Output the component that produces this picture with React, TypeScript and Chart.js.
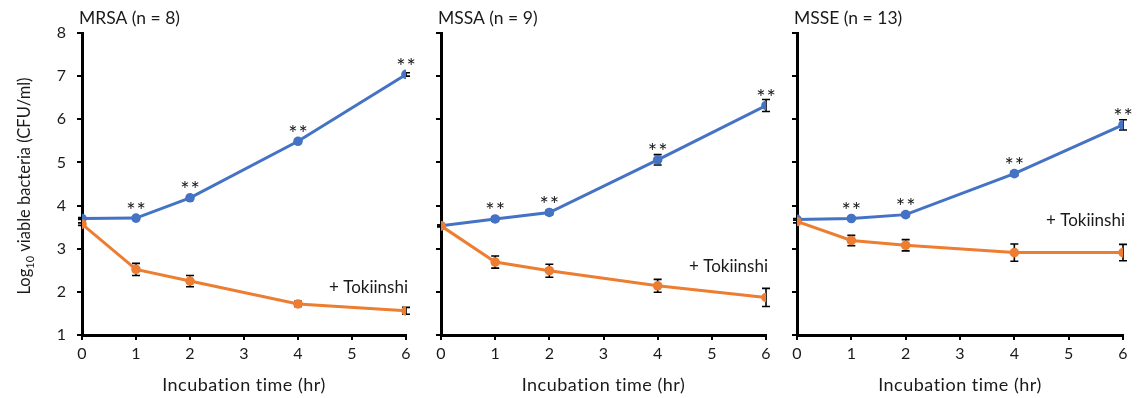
import React, { useEffect, useRef } from "react";
import { Chart, registerables } from "chart.js";

Chart.register(...registerables);

// ---------- data ----------
const hours = [0, 1, 2, 4, 6];
const xTickValues = [0, 1, 2, 3, 4, 5, 6];
const yTickValues = [1, 2, 3, 4, 5, 6, 7, 8];

const mrsaTitle = "MRSA (n = 8)";
const mrsaControl = [3.7, 3.71, 4.18, 5.49, 7.04];
const mrsaControlErr = [0.02, 0.03, 0.04, 0.04, 0.04];
const mrsaTokiinshi = [3.57, 2.52, 2.25, 1.72, 1.56];
const mrsaTokiinshiErr = [0.03, 0.14, 0.13, 0.06, 0.08];

const mssaTitle = "MSSA (n = 9)";
const mssaControl = [3.53, 3.69, 3.84, 5.06, 6.32];
const mssaControlErr = [0.02, 0.05, 0.05, 0.12, 0.14];
const mssaTokiinshi = [3.53, 2.69, 2.49, 2.14, 1.87];
const mssaTokiinshiErr = [0.02, 0.14, 0.15, 0.15, 0.21];

const msseTitle = "MSSE (n = 13)";
const msseControl = [3.68, 3.7, 3.79, 4.74, 5.87];
const msseControlErr = [0.02, 0.03, 0.04, 0.05, 0.12];
const msseTokiinshi = [3.63, 3.19, 3.08, 2.91, 2.91];
const msseTokiinshiErr = [0.03, 0.12, 0.13, 0.2, 0.19];

const significance = ["", "**", "**", "**", "**"];
const treatmentLabel = "+ Tokiinshi";
const xAxisTitle = "Incubation time (hr)";
const yAxisTitleMain = "Log";
const yAxisTitleSub = "10";
const yAxisTitleRest = " viable bacteria (CFU/ml)";

// ---------- styles ----------
const BLUE = "#4472C4";
const ORANGE = "#ED7D31";
const TEXT = "#1a1a1a";
const FONT = "Lato, 'Open Sans', sans-serif";

type Panel = {
  title: string;
  control: number[];
  controlErr: number[];
  treat: number[];
  treatErr: number[];
  left: number;
  width: number;
  yAxisWidth: number;
  padRight: number;
  showYLabels: boolean;
  noteY: number;
};

const panels: Panel[] = [
  {
    title: mrsaTitle,
    control: mrsaControl,
    controlErr: mrsaControlErr,
    treat: mrsaTokiinshi,
    treatErr: mrsaTokiinshiErr,
    left: 0,
    width: 420,
    yAxisWidth: 82,
    padRight: 14,
    showYLabels: true,
    noteY: 2.11,
  },
  {
    title: mssaTitle,
    control: mssaControl,
    controlErr: mssaControlErr,
    treat: mssaTokiinshi,
    treatErr: mssaTokiinshiErr,
    left: 420,
    width: 360,
    yAxisWidth: 21,
    padRight: 14,
    showYLabels: false,
    noteY: 2.58,
  },
  {
    title: msseTitle,
    control: msseControl,
    controlErr: msseControlErr,
    treat: msseTokiinshi,
    treatErr: msseTokiinshiErr,
    left: 780,
    width: 362,
    yAxisWidth: 17,
    padRight: 19,
    showYLabels: false,
    noteY: 3.65,
  },
];

const HEIGHT = 398;

function makeDecorPlugin(p: Panel) {
  return {
    id: "decor",
    beforeDatasetsDraw(chart: any) {
      const ctx = chart.ctx as CanvasRenderingContext2D;
      const xs = chart.scales.x;
      const ys = chart.scales.y;
      ctx.save();
      const drawErr = (vals: number[], errs: number[]) => {
        ctx.strokeStyle = "#000";
        ctx.lineWidth = 1.6;
        vals.forEach((v, i) => {
          const e = errs[i];
          if (!e) return;
          const px = xs.getPixelForValue(hours[i]);
          const yTop = ys.getPixelForValue(v + e);
          const yBot = ys.getPixelForValue(v - e);
          ctx.beginPath();
          ctx.moveTo(px, yTop);
          ctx.lineTo(px, yBot);
          ctx.moveTo(px - 4, yTop);
          ctx.lineTo(px + 4, yTop);
          ctx.moveTo(px - 4, yBot);
          ctx.lineTo(px + 4, yBot);
          ctx.stroke();
        });
      };
      drawErr(p.control, p.controlErr);
      drawErr(p.treat, p.treatErr);
      ctx.restore();
    },
    afterDraw(chart: any) {
      const ctx = chart.ctx as CanvasRenderingContext2D;
      const xs = chart.scales.x;
      const ys = chart.scales.y;
      const area = chart.chartArea;
      ctx.save();
      ctx.fillStyle = TEXT;
      // panel title
      ctx.font = `17.5px ${FONT}`;
      ctx.textAlign = "left";
      ctx.textBaseline = "alphabetic";
      ctx.fillText(p.title, area.left - 3, 24);
      // significance marks
      ctx.font = `22px ${FONT}`;
      (ctx as any).letterSpacing = "1px";
      ctx.textAlign = "center";
      p.control.forEach((v, i) => {
        const s = significance[i];
        if (!s) return;
        const px = xs.getPixelForValue(hours[i]);
        const py = ys.getPixelForValue(v);
        ctx.fillText(s, px + 0.5, py - 0.5);
      });
      (ctx as any).letterSpacing = "0px";
      // treatment label
      ctx.font = `17px ${FONT}`;
      ctx.textAlign = "right";
      ctx.textBaseline = "middle";
      ctx.fillText(treatmentLabel, area.right + 2, ys.getPixelForValue(p.noteY));
      // x axis title
      ctx.font = `18px ${FONT}`;
      (ctx as any).letterSpacing = "0.5px";
      ctx.textAlign = "center";
      ctx.textBaseline = "alphabetic";
      ctx.fillText(xAxisTitle, (area.left + area.right) / 2, 391);
      (ctx as any).letterSpacing = "0px";
      // y axis title
      if (p.showYLabels) {
        const big = `16.5px ${FONT}`;
        const small = `11px ${FONT}`;
        ctx.translate(30, (area.top + area.bottom) / 2 + 2);
        ctx.rotate(-Math.PI / 2);
        ctx.font = big;
        const w1 = ctx.measureText(yAxisTitleMain).width;
        ctx.font = small;
        const w2 = ctx.measureText(yAxisTitleSub).width;
        ctx.font = big;
        const w3 = ctx.measureText(yAxisTitleRest).width;
        const total = w1 + w2 + w3;
        let x = -total / 2;
        ctx.textAlign = "left";
        ctx.textBaseline = "alphabetic";
        ctx.fillText(yAxisTitleMain, x, 0);
        x += w1;
        ctx.font = small;
        ctx.fillText(yAxisTitleSub, x, 4);
        x += w2;
        ctx.font = big;
        ctx.fillText(yAxisTitleRest, x, 0);
      }
      ctx.restore();
    },
  };
}

function PanelChart({ p }: { p: Panel }) {
  const ref = useRef<HTMLCanvasElement | null>(null);
  useEffect(() => {
    if (!ref.current) return;
    const chart = new Chart(ref.current, {
      type: "line",
      data: {
        datasets: [
          {
            label: "Control",
            data: hours.map((h, i) => ({ x: h, y: p.control[i] })),
            borderColor: BLUE,
            backgroundColor: BLUE,
            borderWidth: 3,
            pointRadius: 4.8,
            pointBorderWidth: 0,
            pointBackgroundColor: BLUE,
            order: 2,
          },
          {
            label: treatmentLabel,
            data: hours.map((h, i) => ({ x: h, y: p.treat[i] })),
            borderColor: ORANGE,
            backgroundColor: ORANGE,
            borderWidth: 3,
            pointRadius: 4.8,
            pointBorderWidth: 0,
            pointBackgroundColor: ORANGE,
            order: 1,
          },
        ],
      },
      options: {
        animation: false,
        responsive: false,
        devicePixelRatio: 1,
        layout: { padding: { top: 33, right: p.padRight, bottom: 0, left: 0 } },
        plugins: {
          legend: { display: false },
          tooltip: { enabled: false },
          title: { display: false },
        },
        scales: {
          x: {
            type: "linear",
            min: 0,
            max: 6,
            afterBuildTicks: (scale: any) => {
              scale.ticks = xTickValues.map((v) => ({ value: v }));
            },
            afterFit: (scale: any) => {
              scale.height = HEIGHT - 335;
            },
            ticks: {
              color: TEXT,
              font: { family: FONT, size: 16 },
              padding: 4,
              maxRotation: 0,
            },
            grid: {
              drawOnChartArea: false,
              drawTicks: true,
              tickLength: 5,
              color: "#000",
              lineWidth: 2,
            },
            border: { display: true, color: "#000", width: 3 },
          },
          y: {
            type: "linear",
            min: 1,
            max: 8,
            afterBuildTicks: (scale: any) => {
              scale.ticks = yTickValues.map((v) => ({ value: v }));
            },
            afterFit: (scale: any) => {
              scale.width = p.yAxisWidth;
            },
            ticks: {
              display: p.showYLabels,
              color: TEXT,
              font: { family: FONT, size: 16 },
              padding: 11,
            },
            grid: {
              drawOnChartArea: false,
              drawTicks: true,
              tickLength: 5,
              color: "#000",
              lineWidth: 2,
            },
            border: { display: true, color: "#000", width: 3 },
          },
        },
      },
      plugins: [makeDecorPlugin(p)],
    } as any);
    return () => chart.destroy();
  }, [p]);
  return (
    <canvas
      ref={ref}
      width={p.width}
      height={HEIGHT}
      style={{ position: "absolute", left: p.left, top: 0, width: p.width, height: HEIGHT }}
    />
  );
}

export default function App() {
  return (
    <div
      style={{
        position: "fixed",
        left: 0,
        top: 0,
        width: 1142,
        height: HEIGHT,
        background: "#fff",
        overflow: "hidden",
      }}
    >
      {panels.map((p) => (
        <PanelChart key={p.title} p={p} />
      ))}
    </div>
  );
}
